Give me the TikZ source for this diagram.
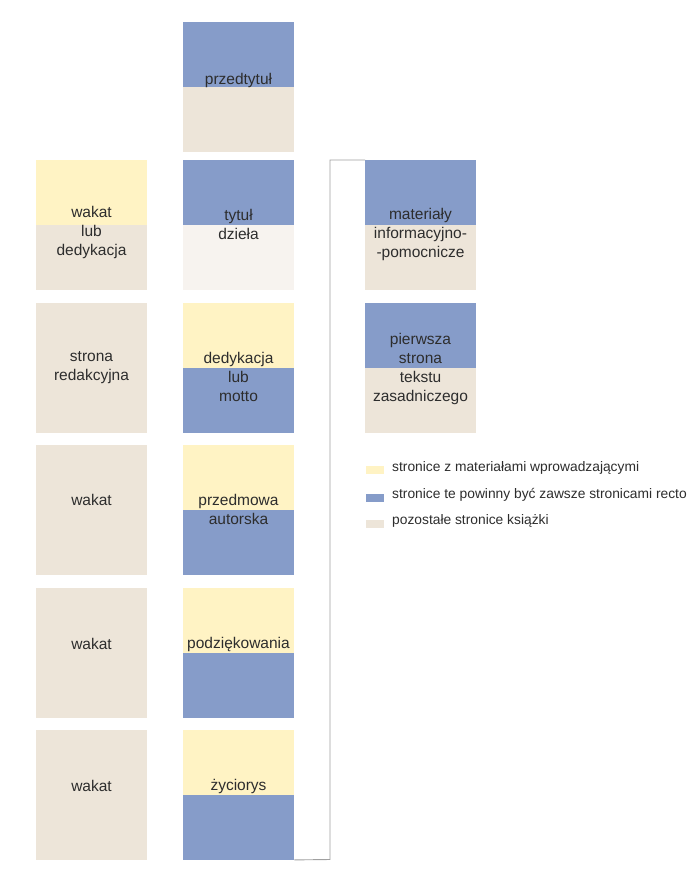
\documentclass[tikz,border=0pt]{standalone}
\usepackage{fontspec}
\setmainfont{Liberation Sans}
\definecolor{cblue}{HTML}{869CC9}
\definecolor{cyel}{HTML}{FFF3C4}
\definecolor{cbeige}{HTML}{EDE5D9}
\definecolor{clight}{HTML}{F7F3EF}
\definecolor{ctxt}{HTML}{2D2D2D}
\definecolor{cline}{HTML}{A0A0A0}
\tikzset{
  pagebox/.style={minimum width=111pt, minimum height=130pt, inner sep=0pt, anchor=north west},
  lbl/.style={font=\fontsize{15.5}{19}\selectfont, align=center, text=ctxt, inner sep=0pt},
  legtxt/.style={font=\fontsize{13.8}{16}\selectfont, text=ctxt, anchor=west, inner sep=0pt},
  swatch/.style={minimum width=18pt, minimum height=8pt, inner sep=0pt, anchor=west},
  bracket/.style={draw=cline, line width=0.9pt}
}
% \twotone{name}{x}{ytop}{topcolor}{bottomcolor}
\newcommand{\twotone}[5]{%
  \fill[#4] (#2,#3) rectangle ++(111,65);
  \fill[#5] (#2,#3+65) rectangle ++(111,65);
  \node[pagebox] (#1) at (#2,#3) {};
}
\begin{document}
\begin{tikzpicture}[x=1pt,y=-1pt]
\useasboundingbox[fill=white] (0,0) rectangle (700,882);
% column 1
\twotone{wld}{36}{160}{cyel}{cbeige}
\twotone{red}{36}{303}{cbeige}{cbeige}
\twotone{wa1}{36}{445}{cbeige}{cbeige}
\twotone{wa2}{36}{588}{cbeige}{cbeige}
\twotone{wa3}{36}{730}{cbeige}{cbeige}
% column 2
\twotone{prz}{183}{22}{cblue}{cbeige}
\twotone{tyt}{183}{160}{cblue}{clight}
\twotone{ded}{183}{303}{cyel}{cblue}
\twotone{pre}{183}{445}{cyel}{cblue}
\twotone{pod}{183}{588}{cyel}{cblue}
\twotone{zyc}{183}{730}{cyel}{cblue}
% column 3
\twotone{mat}{365}{160}{cblue}{cbeige}
\twotone{pie}{365}{303}{cblue}{cbeige}
% labels
\node[lbl] (l-prz) at (238.5,80) {przedtytuł};
\node[lbl] (l-wld) at (91.5,232.5) {wakat\\lub\\dedykacja};
\node[lbl] (l-tyt) at (238.5,224) {tytuł\\dzieła};
\node[lbl] (l-mat) at (420.5,234.5) {materiały\\informacyjno-\\-pomocnicze};
\node[lbl] (l-red) at (91.5,367.5) {strona\\redakcyjna};
\node[lbl] (l-ded) at (238.5,376.5) {dedykacja\\lub\\motto};
\node[lbl] (l-pie) at (420.5,369) {pierwsza\\strona\\tekstu\\zasadniczego};
\node[lbl] (l-wa1) at (91.5,500) {wakat};
\node[lbl] (l-pre) at (238.5,509) {przedmowa\\autorska};
\node[lbl] (l-wa2) at (91.5,644) {wakat};
\node[lbl] (l-pod) at (238.5,644) {podziękowania};
\node[lbl] (l-wa3) at (91.5,786) {wakat};
\node[lbl] (l-zyc) at (238.5,786) {życiorys};
% bracket
\coordinate (bk) at (330,859.5);
\draw[bracket] (zyc.south east) ++(0,-0.5) -- (bk) |- (mat.north west);
% legend
\node[swatch, fill=cyel] (s1) at (366,470) {};
\node[legtxt] (t1) at (392,468) {stronice z materiałami wprowadzającymi};
\node[swatch, fill=cblue] (s2) at (366,497.5) {};
\node[legtxt] (t2) at (392,495) {stronice te powinny być zawsze stronicami recto};
\node[swatch, fill=cbeige] (s3) at (366,523.5) {};
\node[legtxt] (t3) at (392,521) {pozostałe stronice książki};
\end{tikzpicture}
\end{document}
